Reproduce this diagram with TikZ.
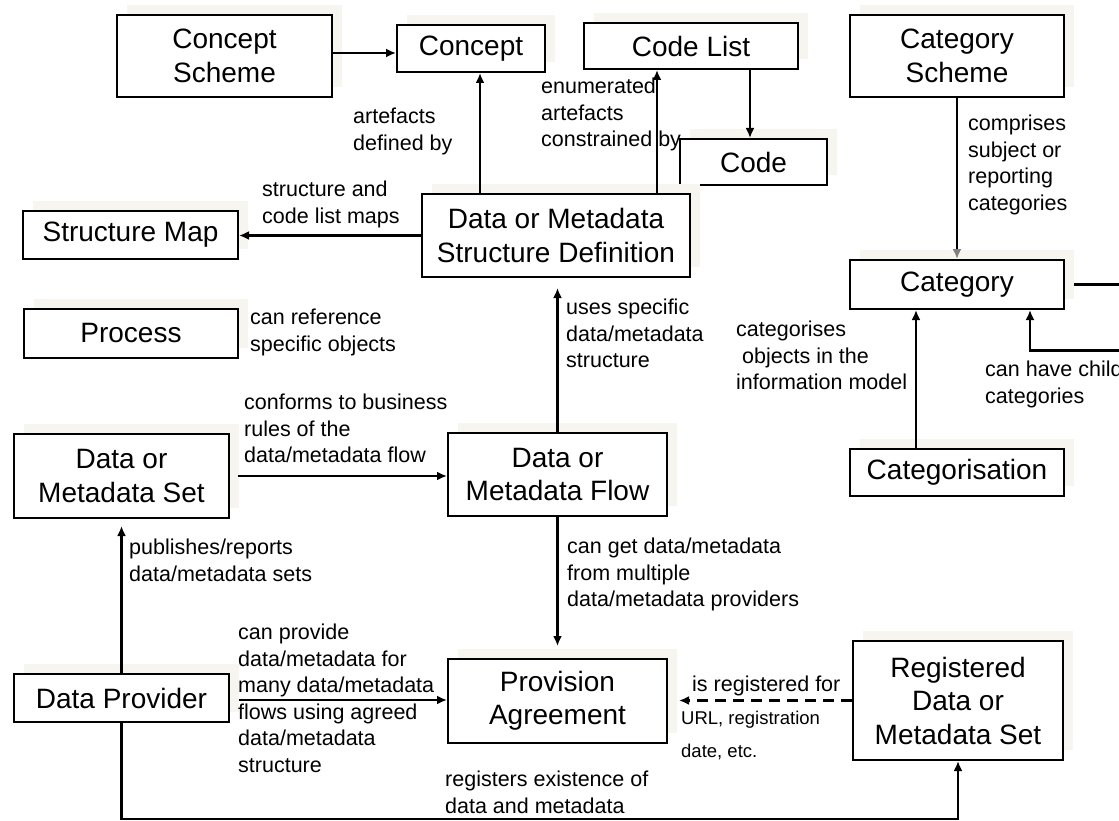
\documentclass[tikz,border=0pt]{standalone}
\usepackage{fontspec}
\setmainfont{Liberation Sans}
\usepackage{tikz}
\usetikzlibrary{arrows.meta}
\usetikzlibrary{shadows}
\definecolor{shadowbeige}{RGB}{246,245,240}
\tikzset{>={Latex[length=10pt,width=9pt]}}

\begin{document}
\begin{tikzpicture}[x=1pt, y=-1pt,
    box/.style={draw, line width=2pt, fill=white, align=center, inner sep=0pt,
        general shadow={fill=shadowbeige, shadow xshift=10pt, shadow yshift=10pt},
        font=\fontsize{28}{33.5}\selectfont},
    lbl/.style={anchor=north west, inner sep=0pt, align=left,
        font=\fontsize{21.5}{26.5}\selectfont},
    conn/.style={->, line width=2.6pt}]
    \useasboundingbox (0, 0) rectangle (1119, 821);

    % top row
    \node[box, minimum width=215pt, minimum height=82pt] (cscheme) at (224.5, 56) {Concept\\Scheme};
    \node[box, minimum width=148pt, minimum height=47pt] (concept) at (471, 48.5) {Concept};
    \node[box, minimum width=214pt, minimum height=46pt] (codelist) at (691, 46) {Code List};
    \node[box, minimum width=147pt, minimum height=46pt] (code) at (753.5, 162) {Code};
    \node[box, minimum width=214pt, minimum height=82pt] (catscheme) at (957, 56) {Category\\Scheme};

    % structure
    \node[box, minimum width=215pt, minimum height=48pt] (smap) at (130.5, 235) {Structure Map};
    \node[box, minimum width=268pt, minimum height=83pt] (dsd) at (556, 235.5) {Data or Metadata\\Structure Definition};
    \node[box, minimum width=214pt, minimum height=49pt] (process) at (131, 333.5) {Process};
    \node[box, minimum width=214pt, minimum height=49pt] (category) at (957, 284.5) {Category};

    % flows and sets
    \node[box, minimum width=215pt, minimum height=84pt] (dset) at (121.5, 476) {Data or\\Metadata Set};
    \node[box, minimum width=219pt, minimum height=83pt] (dflow) at (557.5, 474.5) {Data or\\Metadata Flow};
    \node[box, minimum width=214pt, minimum height=47pt] (categ) at (957, 472.5) {Categorisation};

    % providers
    \node[box, minimum width=215pt, minimum height=48pt] (dprov) at (121.5, 698) {Data Provider};
    \node[box, minimum width=219pt, minimum height=84pt] (prov) at (557.5, 701) {Provision\\Agreement};
    \node[box, minimum width=210pt, minimum height=119pt] (reg) at (958, 700.5) {Registered\\Data or\\Metadata Set};

    % connectors
    \draw[conn] ([yshift=3pt]cscheme.east) -- ([yshift=3pt]cscheme.east -| concept.west);
    \draw[conn] ([xshift=-76pt]dsd.north) -- ([xshift=-76pt]dsd.north |- concept.south);
    \draw[conn] ([xshift=101pt]dsd.north) -- ([xshift=101pt]dsd.north |- codelist.south);
    \draw[conn] ([xshift=59pt]codelist.south) -- ([xshift=59pt]codelist.south |- code.north);
    \draw[conn] (dsd.west) -- (dsd.west -| smap.east);
    \draw[line width=2.6pt, -{Latex[length=10pt,width=9pt,color=gray]}] (catscheme.south) -- (category.north);
    \draw[conn] ([xshift=-41pt]categ.north) -- ([xshift=-41pt]categ.north |- category.south);
    \draw[conn] ([xshift=9pt]category.east) -- ++(60, 0) -- ++(0, 66) -| ([xshift=73pt]category.south);
    \draw[conn, shorten >=10pt] (dflow.north) -- (dflow.north |- dsd.south);
    \draw[conn, shorten <=8pt] (dset.east) -- (dset.east -| dflow.west);
    \draw[conn, shorten >=12pt] (dflow.south) -- (dflow.south |- prov.north);
    \draw[conn, shorten >=7pt] (dprov.north) -- (dprov.north |- dset.south);
    \draw[conn, shorten <=9pt] ([yshift=-2pt]dprov.east) -- ([yshift=-2pt]dprov.east -| prov.west);
    \draw[conn, dash pattern=on 11pt off 7pt, shorten >=11pt] (reg.west) -- (reg.west -| prov.east);
    \draw[conn] (dprov.south) -- ++(0, 96) -| (reg.south);

    % labels
    \node[lbl] (lartefacts) at (353, 108) {artefacts\\defined by};
    \node[lbl] (lenum) at (541, 78) {enumerated\\artefacts\\constrained by};
    \node[lbl] (lmaps) at (262, 181) {structure and\\code list maps};
    \node[lbl] (lcomprises) at (968, 115) {comprises\\subject or\\reporting\\categories};
    \node[lbl] (luses) at (566, 299) {uses specific\\data/metadata\\structure};
    \node[lbl] (lreference) at (250, 309) {can reference\\specific objects};
    \node[lbl] (lcategorises) at (736, 321) {categorises\\\hspace{6pt}objects in the\\information model};
    \node[lbl] (lchild) at (985, 361) {can have child\\categories};
    \node[lbl] (lconforms) at (244, 394) {conforms to business\\rules of the\\data/metadata flow};
    \node[lbl] (lpublishes) at (129, 539) {publishes/reports\\data/metadata sets};
    \node[lbl] (lget) at (567, 538) {can get data/metadata\\from multiple\\data/metadata providers};
    \node[lbl] (lprovide) at (238, 624) {can provide\\data/metadata for\\many data/metadata\\flows using agreed\\data/metadata\\structure};
    \node[lbl] (lregfor) at (692, 676) {is registered for};
    \node[lbl, font=\fontsize{18.5}{33}\selectfont] (lurl) at (681, 711) {URL, registration\\date, etc.};
    \node[lbl] (lexist) at (445, 771) {registers existence of\\data and metadata};
\end{tikzpicture}
\end{document}
